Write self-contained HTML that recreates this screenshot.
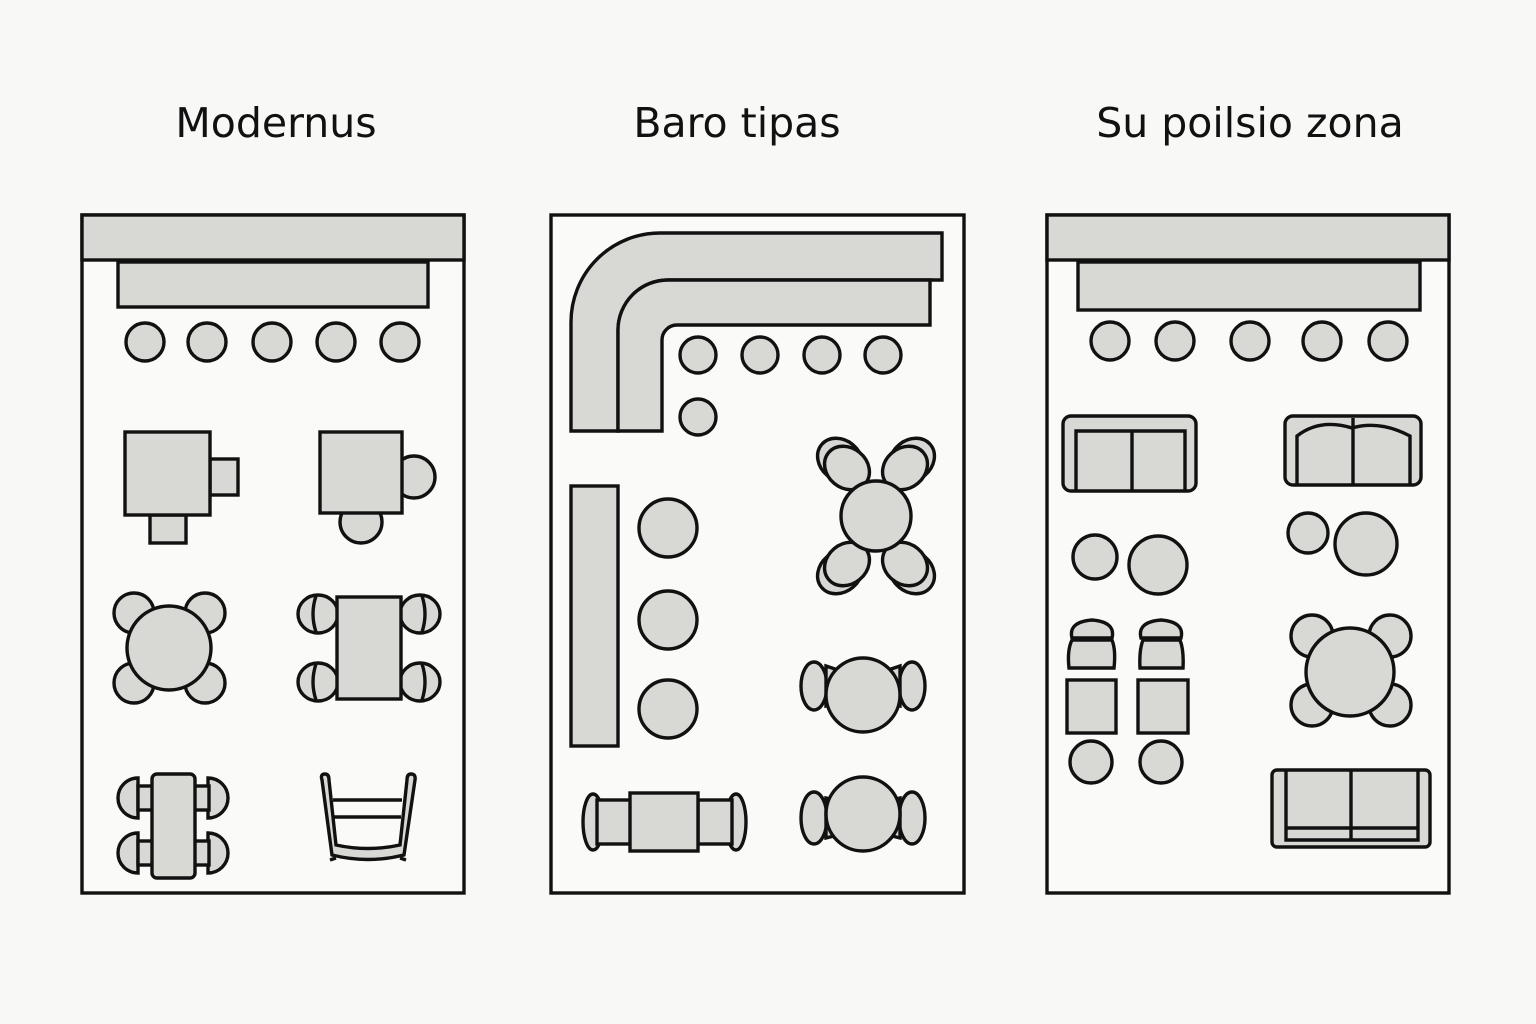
<!DOCTYPE html>
<html><head><meta charset="utf-8"><style>
html,body{margin:0;padding:0;background:#f8f8f6;}
svg{display:block}
text{font-family:"DejaVu Sans","Liberation Sans",sans-serif;font-size:41px;fill:#111;text-anchor:middle}
</style></head><body>
<svg width="1536" height="1024" viewBox="0 0 1536 1024" xmlns="http://www.w3.org/2000/svg">
<rect width="1536" height="1024" fill="#f8f8f6"/>
<text x="276" y="137">Modernus</text>
<text x="737" y="137">Baro tipas</text>
<text x="1250" y="137">Su poilsio zona</text>
<g fill="#d8d8d4" stroke="#111" stroke-width="3.4">
<!-- Panel 1 -->
<rect x="82" y="215" width="382" height="678" fill="#fafaf8"/>
<rect x="82" y="215" width="382" height="45"/>
<rect x="118" y="262" width="310" height="45"/>
<circle cx="145" cy="342" r="19"/><circle cx="207" cy="342" r="19"/><circle cx="272" cy="342" r="19"/><circle cx="336" cy="342" r="19"/><circle cx="400" cy="342" r="19"/>
<rect x="210" y="459" width="28" height="36"/><rect x="150" y="515" width="36" height="28"/>
<rect x="125" y="432" width="85" height="83"/>
<circle cx="414" cy="477" r="21"/><circle cx="361" cy="522" r="21"/>
<rect x="320" y="432" width="82" height="81"/>
<circle cx="134" cy="613" r="20"/><circle cx="205" cy="613" r="20"/><circle cx="134" cy="683" r="20"/><circle cx="205" cy="683" r="20"/>
<circle cx="169" cy="648" r="42"/>
<ellipse cx="318" cy="614" rx="20" ry="19"/><ellipse cx="318" cy="682" rx="20" ry="19"/><ellipse cx="420" cy="614" rx="20" ry="19"/><ellipse cx="420" cy="682" rx="20" ry="19"/>
<path d="M316,596 Q310,614 316,632 M316,664 Q310,682 316,700 M422,596 Q428,614 422,632 M422,664 Q428,682 422,700" fill="none"/>
<rect x="337" y="597" width="64" height="102"/>
<path d="M138,778 A20,20 0 0 0 138,818 Z"/><path d="M138,833 A20,20 0 0 0 138,873 Z"/>
<path d="M208,778 A20,20 0 0 1 208,818 Z"/><path d="M208,833 A20,20 0 0 1 208,873 Z"/>
<rect x="138" y="786" width="16" height="24"/><rect x="138" y="841" width="16" height="24"/><rect x="193" y="786" width="16" height="24"/><rect x="193" y="841" width="16" height="24"/>
<rect x="152" y="774" width="43" height="104" rx="5"/>
<path d="M322,780 Q320,774 325,774 Q329,774 329,780 L336,845 Q368,852 400,845 L407,780 Q407,774 411,774 Q416,774 415,780 L404,855 Q368,864 332,855 Z"/>
<path d="M333,800 H402 M334,817 H401" fill="none"/>
<path d="M336,858 L330,860 M400,858 L406,860" fill="none"/>
<!-- Panel 2 -->
<rect x="551" y="215" width="413" height="678" fill="#fafaf8"/>
<path d="M942,233 H660 A89,89 0 0 0 571,322 V431 H618 V330 A50,50 0 0 1 668,280 H942 Z"/>
<path d="M930,280 H668 A50,50 0 0 0 618,330 V431 H662 V340 A15,15 0 0 1 677,325 H930 Z"/>
<circle cx="698" cy="355" r="18"/><circle cx="760" cy="355" r="18"/><circle cx="822" cy="355" r="18"/><circle cx="883" cy="355" r="18"/><circle cx="698" cy="417" r="18"/>
<rect x="571" y="486" width="47" height="260"/>
<circle cx="668" cy="528" r="29"/><circle cx="668" cy="620" r="29"/><circle cx="668" cy="709" r="29"/>
<ellipse cx="840" cy="460" rx="24" ry="20" transform="rotate(40 840 460)"/><ellipse cx="847" cy="468" rx="24" ry="20" transform="rotate(40 847 468)"/>
<ellipse cx="912" cy="460" rx="24" ry="20" transform="rotate(-40 912 460)"/><ellipse cx="905" cy="468" rx="24" ry="20" transform="rotate(-40 905 468)"/>
<ellipse cx="840" cy="572" rx="24" ry="20" transform="rotate(-40 840 572)"/><ellipse cx="847" cy="564" rx="24" ry="20" transform="rotate(-40 847 564)"/>
<ellipse cx="912" cy="572" rx="24" ry="20" transform="rotate(40 912 572)"/><ellipse cx="905" cy="564" rx="24" ry="20" transform="rotate(40 905 564)"/>
<circle cx="876" cy="516" r="35"/>
<ellipse cx="814" cy="686" rx="13" ry="24"/><path d="M826,666 L850,674 V700 L826,706 Z"/>
<ellipse cx="912" cy="686" rx="13" ry="24"/><path d="M900,666 L876,674 V700 L900,706 Z"/>
<circle cx="863" cy="695" r="37"/>
<ellipse cx="814" cy="818" rx="13" ry="26"/><path d="M826,798 L850,804 V832 L826,838 Z"/>
<ellipse cx="912" cy="818" rx="13" ry="26"/><path d="M900,798 L876,804 V832 L900,838 Z"/>
<circle cx="863" cy="814" r="37"/>
<ellipse cx="593" cy="822" rx="10" ry="28"/><rect x="597" y="800" width="34" height="44"/>
<ellipse cx="736" cy="822" rx="10" ry="28"/><rect x="698" y="800" width="34" height="44"/>
<rect x="630" y="793" width="68" height="58"/>
<!-- Panel 3 -->
<rect x="1047" y="215" width="402" height="678" fill="#fafaf8"/>
<rect x="1047" y="215" width="402" height="45"/>
<rect x="1078" y="262" width="342" height="48"/>
<circle cx="1110" cy="341" r="19"/><circle cx="1175" cy="341" r="19"/><circle cx="1250" cy="341" r="19"/><circle cx="1322" cy="341" r="19"/><circle cx="1388" cy="341" r="19"/>
<rect x="1063" y="416" width="133" height="75" rx="8"/>
<path d="M1076,490 V431 H1185 V490 M1132,431 V490" fill="none"/>
<rect x="1285" y="416" width="136" height="69" rx="8"/>
<path d="M1297,485 V436 Q1320,418 1352,428 Q1380,420 1410,436 V485 M1353,418 V485" fill="none"/>
<circle cx="1095" cy="557" r="22"/><circle cx="1158" cy="565" r="29"/>
<circle cx="1308" cy="533" r="20"/><circle cx="1366" cy="544" r="31"/>
<circle cx="1312" cy="636" r="21"/><circle cx="1390" cy="636" r="21"/><circle cx="1312" cy="705" r="21"/><circle cx="1390" cy="705" r="21"/>
<circle cx="1350" cy="672" r="44"/>
<path d="M1072,638 Q1068,622 1092,620 Q1116,622 1112,638 Z"/><path d="M1141,638 Q1137,622 1161,620 Q1185,622 1181,638 Z"/>
<path d="M1072,640 H1112 Q1116,650 1114,668 H1069 Q1067,650 1072,640 Z"/><path d="M1143,640 H1180 Q1184,650 1183,668 H1140 Q1139,650 1143,640 Z"/>
<rect x="1067" y="680" width="49" height="53"/><rect x="1138" y="680" width="50" height="53"/>
<circle cx="1091" cy="762" r="21"/><circle cx="1161" cy="762" r="21"/>
<rect x="1272" y="770" width="158" height="77" rx="5"/>
<path d="M1286,771 V840 H1418 V771 M1351,771 V840 M1286,828 H1418" fill="none"/>
</g>
</svg>
</body></html>
